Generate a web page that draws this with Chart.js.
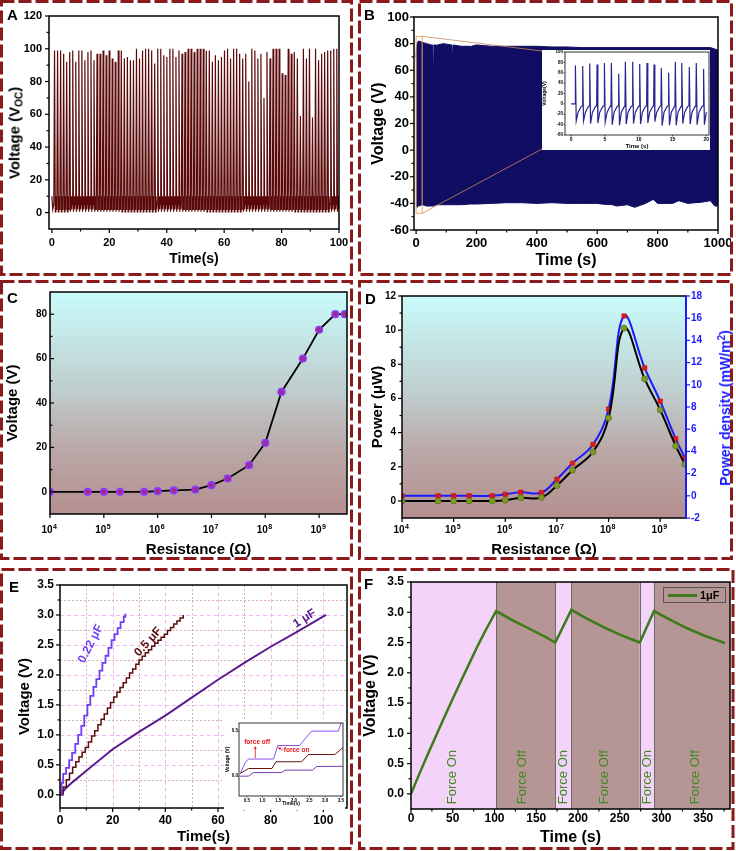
<!DOCTYPE html>
<html>
<head>
<meta charset="utf-8">
<title>TENG output figure</title>
<script src="https://cdn.jsdelivr.net/npm/chart.js@4.4.1/dist/chart.umd.min.js"></script>
<style>
  body { margin: 0; background: #fff; }
  #fig { position: relative; width: 736px; height: 851px; overflow: hidden; font-family: "Liberation Sans", Arial, sans-serif; }
  #fig canvas { position: absolute; }
  .tag { position: absolute; font-weight: bold; font-size: 15px; line-height: 15px; }
  .rot { position: absolute; transform: translate(-50%, -50%) rotate(-90deg); white-space: nowrap; font-weight: bold; }
  .rot sub { font-size: 10px; vertical-align: -3px; }
  .rot sup { font-size: 10px; vertical-align: 5px; line-height: 0; }
  #borders { z-index: 5; pointer-events: none; }
  #legF { position: absolute; left: 663px; top: 587px; width: 63px; height: 16px; box-sizing: border-box; border: 1px solid #555; font: bold 11px "Liberation Sans", Arial, sans-serif; }
  #legF span.ln { position: absolute; left: 4px; top: 6px; width: 29px; height: 2.5px; background: #3d7a1a; }
  #legF span.tx { position: absolute; left: 36px; top: 1px; }
</style>
</head>
<body>
<div id="fig">
  <canvas id="cA" width="347" height="270" style="left:3px;top:3px"></canvas>
  <canvas id="cB" width="370" height="270" style="left:361px;top:3px"></canvas>
  <canvas id="cBi" width="168" height="100" style="left:542px;top:50px;background:#fff"></canvas>
  <canvas id="cC" width="347" height="276" style="left:3px;top:283px"></canvas>
  <canvas id="cD" width="370" height="276" style="left:361px;top:283px"></canvas>
  <canvas id="cE" width="347" height="277" style="left:3px;top:571px"></canvas>
  <canvas id="cEi" width="121" height="91" style="left:224px;top:719px;background:#fff"></canvas>
  <canvas id="cF" width="371" height="277" style="left:361px;top:571px"></canvas>

  <div class="tag" style="left:7px;top:7px">A</div>
  <div class="tag" style="left:364px;top:7px">B</div>
  <div class="tag" style="left:7px;top:290px">C</div>
  <div class="tag" style="left:365px;top:291px">D</div>
  <div class="tag" style="left:9px;top:579px">E</div>
  <div class="tag" style="left:364px;top:576px">F</div>

  <div class="rot" style="left:15px;top:133px;font-size:15px">Voltage (V<sub>OC</sub>)</div>
  <div class="rot" style="left:725px;top:408px;font-size:14px;color:#1a1aff">Power density (mW/m<sup>2</sup>)</div>
  <div id="legF"><span class="ln"></span><span class="tx">1μF</span></div>

  <canvas id="borders" width="736" height="851" style="left:0;top:0"></canvas>
</div>

<script>
// ---------------- data ----------------

// A: open-circuit voltage, peak height of each press (about 1.06 s apart)
const aPeakV = [
  99, 99, 99, 97, 92, 98, 99, 92, 99, 99, 93, 98, 99, 93, 97, 97, 99, 96, 99, 94,
  92, 99, 99, 94, 95, 93, 93, 100, 94, 99,
  100, 100, 99, 91, 100, 100, 96, 95, 100, 100, 95, 99, 97, 98, 100, 100, 98, 100, 100, 100,
  99, 99, 92, 96, 93, 95, 99, 100, 94, 100, 100, 97,
  94, 97, 80, 100, 99, 94, 97, 70, 98, 94, 100, 100, 100, 85, 84, 100, 97, 98,
  94, 59, 100, 94, 100, 58, 100, 93, 97, 98, 99, 99, 100, 100
];
const aFirstPeak = 0.93;
const aPeriod = 1.057;
const aXTicks = [0, 10, 20, 30, 40, 50, 60, 70, 80, 90, 100];
const aYTicks = [0, 10, 20, 30, 40, 50, 60, 70, 80, 90, 100, 110, 120];

// B: envelope of the 1000 s run (top and bottom of the dense trace)
const bT     = [0, 3, 8, 20, 35, 50, 55, 57, 59, 66, 68, 70, 90, 118, 120, 122, 150, 179, 181, 183, 200, 250, 300, 350, 400, 450, 500, 550, 600, 614, 650, 664, 700, 724, 760, 785, 800, 850, 870, 900, 950, 975, 989, 1000];
const bUpper = [70, 80, 82, 81, 80, 79, 79, 64, 79, 79, 67, 79, 80, 79, 73, 79, 78, 78, 67, 78, 79, 78, 78, 78, 78, 77.5, 77.5, 77, 77, 77, 77, 77, 77, 77, 77, 77, 77, 77, 77, 77, 77, 77, 76, 75];
const bLower = [-40, -43, -42, -41, -42, -42, -42, -42, -42, -41, -41, -41, -41, -41, -41, -41, -41, -40.5, -40.5, -40.5, -40.5, -40, -39.5, -39.5, -40, -39.5, -40, -40, -40, -40.5, -41, -42, -41, -43, -40, -37, -40, -40, -38, -40, -39, -38, -42, -42];
const bXTicks = [0, 100, 200, 300, 400, 500, 600, 700, 800, 900, 1000];
const bYTicks = [-60, -50, -40, -30, -20, -10, 0, 10, 20, 30, 40, 50, 60, 70, 80, 90, 100];

// B inset: first 20 s
const biSpikeT = [0.64, 1.72, 2.76, 3.84, 4.93, 5.96, 7.04, 8.03, 9.11, 10.15, 11.23, 12.27, 13.35, 14.43, 15.42, 16.4, 17.49, 18.52, 19.6];
const biPeak   = [74, 73, 78, 76, 79, 79, 58, 81, 81, 77, 79, 76, 69, 60, 81, 79, 71, 79, 67];
const biTrough = [-33, -33, -38, -37, -35, -40, -41, -39, -38, -39, -37, -34, -42, -41, -41, -38, -39, -40, -40];
const biXTicks = [0, 5, 10, 15, 20];
const biYTicks = [-60, -40, -20, 0, 20, 40, 60, 80, 100];

// C / D: load resistance sweep
const res      = [1e4, 5e4, 1e5, 2e5, 5.6e5, 1e6, 2e6, 5e6, 1e7, 2e7, 5e7, 1e8, 2e8, 5e8, 1e9, 2e9, 3e9];
const cVolt    = [0, 0, 0, 0, 0, 0.3, 0.6, 1, 3, 6, 12, 22, 45, 60, 73, 80, 80];
const dPower   = [0, 0, 0, 0, 0, 0.04, 0.18, 0.2, 0.9, 1.8, 2.87, 4.86, 10.12, 7.15, 5.33, 3.22, 2.15];
const dDensity = [0, 0, 0, 0, 0, 0.14, 0.32, 0.29, 1.49, 2.93, 4.62, 7.82, 16.2, 11.52, 8.52, 5.13, 3.42];
const resTicks = [1e4, 1e5, 1e6, 1e7, 1e8, 1e9];
const cYTicks  = [0, 10, 20, 30, 40, 50, 60, 70, 80];
const dYTicks  = [0, 1, 2, 3, 4, 5, 6, 7, 8, 9, 10, 11, 12];
const dY1Ticks = [-2, 0, 2, 4, 6, 8, 10, 12, 14, 16, 18];

// E: capacitor charging
const e22T = [0, 0.6, 1.2, 2.3, 3.5, 4.6, 5.8, 6.9, 8.1, 9.2, 10.4, 11.5, 12.7, 13.8, 15.0, 16.1, 17.3, 18.4, 19.6, 20.7, 21.9, 23.0, 24.2, 24.8];
const e22V = [0, 0.2, 0.35, 0.45, 0.58, 0.7, 0.85, 1.0, 1.15, 1.32, 1.5, 1.65, 1.8, 1.93, 2.07, 2.2, 2.32, 2.45, 2.58, 2.68, 2.78, 2.88, 2.97, 3.02];
const e05T = [0, 1.2, 2.4, 3.6, 4.8, 6, 7.2, 8.4, 9.6, 10.8, 12, 13.2, 14.4, 15.6, 16.8, 18, 19.2, 20.4, 21.6, 22.8, 24, 25.2, 26.4, 27.6, 28.8, 30, 31.2, 32.4, 33.6, 34.8, 36, 37.2, 38.4, 39.6, 40.8, 42, 43.2, 44.4, 45.6, 46.8];
const e05V = [0, 0.13, 0.25, 0.36, 0.46, 0.55, 0.63, 0.71, 0.79, 0.88, 0.98, 1.07, 1.17, 1.26, 1.35, 1.45, 1.54, 1.63, 1.71, 1.79, 1.87, 1.95, 2.03, 2.1, 2.18, 2.25, 2.31, 2.37, 2.42, 2.48, 2.53, 2.58, 2.63, 2.68, 2.74, 2.79, 2.85, 2.9, 2.95, 3.0];
const e1T  = [0, 2, 5, 10, 20, 30, 40, 50, 60, 70, 80, 90, 101];
const e1V  = [0, 0.1, 0.22, 0.4, 0.76, 1.05, 1.32, 1.62, 1.92, 2.2, 2.47, 2.72, 3.0];
const eXTicks = [0, 10, 20, 30, 40, 50, 60, 70, 80, 90, 100];
const eYTicks = [0, 0.25, 0.5, 0.75, 1, 1.25, 1.5, 1.75, 2, 2.25, 2.5, 2.75, 3, 3.25, 3.5];

// E inset: first few presses
const eiVioT = [0.29, 0.45, 0.55, 1.35, 1.49, 2.18, 2.57, 3.42, 3.52];
const eiVioV = [0.03, 0.15, 0.19, 0.19, 0.34, 0.34, 0.5, 0.5, 0.6];
const eiBrnT = [0.29, 0.55, 1.3, 1.43, 2.25, 2.46, 3.31, 3.58];
const eiBrnV = [0.03, 0.085, 0.085, 0.16, 0.16, 0.24, 0.24, 0.32];
const eiPurT = [0.29, 0.55, 0.71, 1.61, 1.72, 2.6, 2.73, 3.58];
const eiPurV = [0, 0, 0.04, 0.04, 0.067, 0.067, 0.107, 0.11];
const eiXTicks = [0.5, 1, 1.5, 2, 2.5, 3, 3.5];
const eiYTicks = [0, 0.5];

// F: 1 uF with force on / off
const fT = [0, 10, 20, 30, 40, 50, 60, 70, 80, 90, 102, 120, 140, 160, 172.8, 192, 210, 230, 250, 274, 291, 310, 330, 350, 376];
const fV = [0, 0.33, 0.65, 0.96, 1.27, 1.57, 1.87, 2.16, 2.45, 2.72, 3.02, 2.88, 2.74, 2.6, 2.5, 3.04, 2.9, 2.76, 2.63, 2.5, 3.02, 2.88, 2.74, 2.62, 2.49];
const fEdges = [0, 102, 172.8, 192, 274, 291, 382];
const fLabels = ['Force On', 'Force Off', 'Force On', 'Force Off', 'Force On', 'Force Off'];
const fLabelT = [50, 133, 182, 232, 283, 340];
const fXTicks = [0, 25, 50, 75, 100, 125, 150, 175, 200, 225, 250, 275, 300, 325, 350, 375];
const fYTicks = [0, 0.25, 0.5, 0.75, 1, 1.25, 1.5, 1.75, 2, 2.25, 2.5, 2.75, 3, 3.25, 3.5];

// ---------------- helpers ----------------

const FAMILY = "'Liberation Sans', Arial, sans-serif";
Chart.defaults.font.family = FAMILY;
Chart.defaults.font.weight = 'bold';
Chart.defaults.color = '#000';
Chart.defaults.animation = false;
Chart.defaults.responsive = false;
Chart.defaults.plugins.legend.display = false;
Chart.defaults.plugins.tooltip.enabled = false;
Chart.defaults.elements.point.radius = 0;

const every = step => v => Math.abs(v / step - Math.round(v / step)) < 1e-6;
const fmt = (step, dp) => v => (every(step)(v) ? Number(v).toFixed(dp) : '');
const xy = (xs, ys) => xs.map((x, i) => ({ x: x, y: ys[i] }));

function axis(o) {
  return {
    type: o.type || 'linear',
    position: o.pos,
    min: o.min,
    max: o.max,
    grid: { display: false, drawTicks: false },
    border: { display: false },
    afterBuildTicks: s => { s.ticks = o.ticks.map(v => ({ value: v })); },
    afterFit: s => {
      if (s.isHorizontal()) s.height = o.size; else s.width = o.size;
      s.paddingLeft = s.paddingRight = s.paddingTop = s.paddingBottom = 0;
    },
    ticks: {
      display: o.label !== null,
      autoSkip: false, maxRotation: 0, minRotation: 0,
      padding: o.pad, color: o.color || '#000',
      font: { size: o.fs }, callback: o.label || undefined
    },
    title: {
      display: !!o.title, text: o.title, color: o.color || '#000',
      font: { size: o.tfs || 15 }, padding: o.tpad || 0
    }
  };
}

// plot box plus tick marks (major / minor, in or out)
const frame = {
  id: 'frame',
  afterDraw(chart, args, o) {
    const { ctx, chartArea: a } = chart;
    const major = o.major || 4, minor = o.minor || 2.5;
    ctx.save();
    ctx.lineWidth = o.width || 1.5;
    ctx.strokeStyle = '#000';
    ctx.strokeRect(a.left, a.top, a.right - a.left, a.bottom - a.top);
    Object.values(chart.scales).forEach(s => {
      const dir = (o.inward || []).includes(s.id) ? -1 : 1;
      ctx.strokeStyle = (o.colors && o.colors[s.id]) || '#000';
      ctx.lineWidth = o.tickWidth || 1.2;
      s.ticks.forEach(t => {
        const len = (t.label === '' ? minor : major) * dir;
        const p = s.getPixelForValue(t.value);
        ctx.beginPath();
        if (s.isHorizontal()) { ctx.moveTo(p, a.bottom); ctx.lineTo(p, a.bottom + len); }
        else if (s.position === 'right') { ctx.moveTo(a.right, p); ctx.lineTo(a.right + len, p); }
        else { ctx.moveTo(a.left, p); ctx.lineTo(a.left - len, p); }
        ctx.stroke();
      });
    });
    if (o.rightColor) {
      ctx.strokeStyle = o.rightColor;
      ctx.lineWidth = 2;
      ctx.beginPath(); ctx.moveTo(a.right, a.top); ctx.lineTo(a.right, a.bottom); ctx.stroke();
    }
    ctx.restore();
  }
};

// "10" with a raised exponent under each decade tick
const powLabels = {
  id: 'powLabels',
  afterDraw(chart, args, o) {
    const { ctx, chartArea: a, scales: { x } } = chart;
    ctx.save();
    ctx.fillStyle = '#000';
    ctx.textBaseline = 'alphabetic';
    x.ticks.forEach(t => {
      const px = x.getPixelForValue(t.value);
      const e = String(Math.round(Math.log10(t.value)));
      ctx.font = 'bold 10px ' + FAMILY;
      ctx.textAlign = 'right';
      ctx.fillText('10', px + 2.5, a.bottom + o.dy);
      ctx.font = 'bold 7px ' + FAMILY;
      ctx.textAlign = 'left';
      ctx.fillText(e, px + 3, a.bottom + o.dy - 4.5);
    });
    ctx.restore();
  }
};

// plot area background (solid or vertical gradient)
const shade = {
  id: 'shade',
  beforeDraw(chart, args, o) {
    if (!o.stops) return;
    const { ctx, chartArea: a } = chart;
    const g = ctx.createLinearGradient(0, a.top, 0, a.bottom);
    o.stops.forEach(s => g.addColorStop(s[0], s[1]));
    ctx.save();
    ctx.fillStyle = g;
    ctx.fillRect(a.left, a.top, a.right - a.left, a.bottom - a.top);
    ctx.restore();
  }
};

// text and arrows placed in data coordinates
const notes = {
  id: 'notes',
  afterDatasetsDraw(chart, args, o) {
    const { ctx, scales } = chart;
    const x = scales.x, y = scales.y;
    (o.items || []).forEach(n => {
      ctx.save();
      ctx.translate(x.getPixelForValue(n.x), y.getPixelForValue(n.y));
      ctx.rotate((n.rot || 0) * Math.PI / 180);
      ctx.font = n.font;
      ctx.fillStyle = n.color;
      ctx.textAlign = n.align || 'center';
      ctx.textBaseline = 'middle';
      ctx.fillText(n.text, 0, 0);
      ctx.restore();
    });
    (o.arrows || []).forEach(r => {
      const x1 = x.getPixelForValue(r.x1), y1 = y.getPixelForValue(r.y1);
      const x2 = x.getPixelForValue(r.x2), y2 = y.getPixelForValue(r.y2);
      const ang = Math.atan2(y2 - y1, x2 - x1);
      ctx.save();
      ctx.strokeStyle = ctx.fillStyle = r.color;
      ctx.lineWidth = 0.8;
      ctx.beginPath(); ctx.moveTo(x1, y1); ctx.lineTo(x2, y2); ctx.stroke();
      ctx.beginPath();
      ctx.moveTo(x2, y2);
      ctx.lineTo(x2 - 3 * Math.cos(ang - 0.5), y2 - 3 * Math.sin(ang - 0.5));
      ctx.lineTo(x2 - 3 * Math.cos(ang + 0.5), y2 - 3 * Math.sin(ang + 0.5));
      ctx.closePath(); ctx.fill();
      ctx.restore();
    });
  }
};

// E: dashed grid at every tick
const eGrid = {
  id: 'eGrid',
  beforeDatasetsDraw(chart) {
    const { ctx, chartArea: a, scales: { x, y } } = chart;
    ctx.save();
    ctx.lineWidth = 0.8;
    x.ticks.forEach(t => {
      if (t.value <= x.min || t.value >= x.max) return;
      const px = Math.round(x.getPixelForValue(t.value)) + 0.5;
      ctx.strokeStyle = t.label ? '#eda6ee' : '#c9a3a3';
      ctx.setLineDash(t.label ? [4, 3] : [2, 2]);
      ctx.beginPath(); ctx.moveTo(px, a.top); ctx.lineTo(px, a.bottom); ctx.stroke();
    });
    y.ticks.forEach(t => {
      if (t.value <= 0 || t.value >= y.max) return;
      const py = Math.round(y.getPixelForValue(t.value)) + 0.5;
      ctx.strokeStyle = t.label ? '#eda6ee' : '#c9a3a3';
      ctx.setLineDash(t.label ? [4, 3] : [2, 2]);
      ctx.beginPath(); ctx.moveTo(a.left, py); ctx.lineTo(a.right, py); ctx.stroke();
    });
    ctx.restore();
  }
};

// F: force on / off bands
const bands = {
  id: 'bands',
  beforeDatasetsDraw(chart, args, o) {
    const { ctx, chartArea: a, scales: { x } } = chart;
    ctx.save();
    for (let i = 0; i < fEdges.length - 1; i++) {
      const x0 = x.getPixelForValue(fEdges[i]);
      const x1 = Math.min(x.getPixelForValue(fEdges[i + 1]), a.right);
      ctx.fillStyle = i % 2 ? o.off : o.on;
      ctx.fillRect(x0, a.top, x1 - x0, a.bottom - a.top);
    }
    ctx.strokeStyle = '#6b6b6b';
    ctx.lineWidth = 1;
    fEdges.slice(1, -1).forEach(e => {
      const px = Math.round(x.getPixelForValue(e)) + 0.5;
      ctx.beginPath(); ctx.moveTo(px, a.top); ctx.lineTo(px, a.bottom); ctx.stroke();
    });
    ctx.restore();
  }
};

// B: orange zoom box and the lines towards the inset
const zoomBox = {
  id: 'zoomBox',
  afterDatasetsDraw(chart, args, o) {
    const { ctx, scales: { x, y } } = chart;
    const x0 = x.getPixelForValue(o.x0), x1 = x.getPixelForValue(o.x1);
    const y0 = y.getPixelForValue(o.y0), y1 = y.getPixelForValue(o.y1);
    const inset = document.getElementById('cBi');
    const ix = inset.offsetLeft - chart.canvas.offsetLeft;
    const iy = inset.offsetTop - chart.canvas.offsetTop;
    ctx.save();
    ctx.strokeStyle = '#f2a65a';
    ctx.lineWidth = 1;
    ctx.strokeRect(x0, y0, x1 - x0, y1 - y0);
    ctx.strokeStyle = '#c98a5a';
    ctx.lineWidth = 0.8;
    ctx.beginPath();
    ctx.moveTo(x1, y0); ctx.lineTo(ix, iy + 1);
    ctx.moveTo(x1, y1); ctx.lineTo(ix, iy + inset.height - 1);
    ctx.stroke();
    ctx.restore();
  }
};

// ---------------- A ----------------
const aPts = [{ x: 0, y: 10 }, { x: 0.3, y: 2 }];
aPeakV.forEach((v, i) => {
  const t = aFirstPeak + i * aPeriod;
  aPts.push({ x: t - 0.25, y: 5 }, { x: t, y: v }, { x: t + 0.25, y: 0.5 }, { x: t + 0.45, y: 10 }, { x: t + 0.7, y: 2 });
});

new Chart(document.getElementById('cA'), {
  type: 'line',
  data: { datasets: [{ data: aPts, borderColor: '#5a0808', borderWidth: 1.2 }] },
  options: {
    layout: { padding: { top: 13, right: 11 }, autoPadding: false },
    scales: {
      x: axis({ pos: 'bottom', min: -1, max: 100, ticks: aXTicks, size: 44, pad: 7, fs: 11, label: fmt(20, 0), title: 'Time(s)', tfs: 14, tpad: { bottom: 5 } }),
      y: axis({ pos: 'left', min: -10, max: 120, ticks: aYTicks, size: 46, pad: 7, fs: 11, label: fmt(20, 0) })
    },
    plugins: { frame: {} }
  },
  plugins: [frame]
});

// ---------------- B ----------------
const navy = '#110d62';
new Chart(document.getElementById('cB'), {
  type: 'line',
  data: {
    datasets: [
      { data: xy(bT, bUpper), borderColor: navy, backgroundColor: navy, borderWidth: 1, fill: '+1' },
      { data: xy(bT, bLower), borderColor: navy, borderWidth: 1, fill: false }
    ]
  },
  options: {
    layout: { padding: { top: 14, right: 13 }, autoPadding: false },
    scales: {
      x: axis({ pos: 'bottom', min: -7, max: 1000, ticks: bXTicks, size: 43, pad: 6, fs: 13, label: fmt(200, 0), title: 'Time (s)', tfs: 16, tpad: { bottom: 3 } }),
      y: axis({ pos: 'left', min: -60, max: 100, ticks: bYTicks, size: 53, pad: 5, fs: 13, label: fmt(20, 0), title: 'Voltage (V)', tfs: 16, tpad: { top: 8 } })
    },
    plugins: { frame: {}, zoomBox: { x0: 0, x1: 20, y0: 85.5, y1: -47.5 } }
  },
  plugins: [zoomBox, frame]
});

// B inset
const biPts = [{ x: 0, y: 0 }, { x: 0.5, y: 0 }];
biSpikeT.forEach((t, i) => {
  biPts.push({ x: t - 0.06, y: i === 0 ? 0 : -4 }, { x: t, y: biPeak[i] }, { x: t + 0.12, y: biTrough[i] }, { x: t + 0.4, y: -16 });
  if (i < biSpikeT.length - 1) biPts.push({ x: t + 0.85, y: -5 });
});

new Chart(document.getElementById('cBi'), {
  type: 'line',
  data: { datasets: [{ data: biPts, borderColor: '#262690', borderWidth: 1.2 }] },
  options: {
    layout: { padding: { top: 2, right: 1 }, autoPadding: false },
    scales: {
      x: axis({ pos: 'bottom', min: -0.9, max: 20.4, ticks: biXTicks, size: 15, pad: 2, fs: 5, label: v => String(v), title: 'Time (s)', tfs: 6, tpad: { bottom: 0 } }),
      y: axis({ pos: 'left', min: -60, max: 100, ticks: biYTicks, size: 23, pad: 2, fs: 4.5, label: v => String(v), title: 'Voltage(V)', tfs: 5, tpad: { top: 0 } })
    },
    plugins: { frame: { width: 0.8, tickWidth: 0.6, major: 1.5 } }
  },
  plugins: [frame]
});

// ---------------- C ----------------
const cyanBrown = [[0, '#c9fbfb'], [0.45, '#bfcccc'], [0.7, '#bba8a8'], [1, '#b48f8f']];
new Chart(document.getElementById('cC'), {
  type: 'line',
  data: {
    datasets: [{
      data: xy(res, cVolt), borderColor: '#000', borderWidth: 1.8,
      pointRadius: 3.3, pointBackgroundColor: '#a02a8e', pointBorderColor: '#8a3cff', pointBorderWidth: 1.6
    }]
  },
  options: {
    layout: { padding: { top: 9, right: 3 }, autoPadding: false },
    scales: {
      x: axis({ type: 'logarithmic', pos: 'bottom', min: 1e4, max: 3.3e9, ticks: resTicks, size: 45, pad: 6, fs: 10, label: null, title: 'Resistance (Ω)', tfs: 15, tpad: { bottom: 0 } }),
      y: axis({ pos: 'left', min: -10, max: 90, ticks: cYTicks, size: 47, pad: 3, fs: 10, label: fmt(20, 0), title: 'Voltage (V)', tfs: 15, tpad: { top: 1 } })
    },
    plugins: { frame: { inward: ['y'] }, shade: { stops: cyanBrown }, powLabels: { dy: 19 } }
  },
  plugins: [shade, frame, powLabels]
});

// ---------------- D ----------------
new Chart(document.getElementById('cD'), {
  type: 'line',
  data: {
    datasets: [
      {
        data: xy(res, dPower), yAxisID: 'y', borderColor: '#000', borderWidth: 2, tension: 0.4,
        pointRadius: 3, pointBackgroundColor: '#7f9c22', pointBorderColor: '#56701a', pointBorderWidth: 0.8
      },
      {
        data: xy(res, dDensity), yAxisID: 'y1', borderColor: '#1a1aff', borderWidth: 2, tension: 0.4,
        pointStyle: 'rect', pointRadius: 3.2, pointBackgroundColor: '#e01818', pointBorderColor: '#c01010', pointBorderWidth: 0.5
      }
    ]
  },
  options: {
    layout: { padding: { top: 13, right: 0 }, autoPadding: false },
    scales: {
      x: axis({ type: 'logarithmic', pos: 'bottom', min: 1e4, max: 3.16e9, ticks: resTicks, size: 41, pad: 6, fs: 10, label: null, title: 'Resistance (Ω)', tfs: 15, tpad: { bottom: 0 } }),
      y: axis({ pos: 'left', min: -1, max: 12, ticks: dYTicks, size: 41, pad: 6, fs: 10, label: fmt(2, 0), title: 'Power (μW)', tfs: 15, tpad: { top: 8 } }),
      y1: axis({ pos: 'right', min: -2, max: 18, ticks: dY1Ticks, size: 45, pad: 5, fs: 10, label: v => String(v), color: '#1a1aff' })
    },
    plugins: { frame: { colors: { y1: '#1a1aff' }, rightColor: '#1a1aff' }, shade: { stops: cyanBrown }, powLabels: { dy: 15 } }
  },
  plugins: [shade, frame, powLabels]
});

// ---------------- E ----------------
const blueViolet = '#6f3ff6', maroon = '#5c0d0d', plum = '#5b1b8e';
new Chart(document.getElementById('cE'), {
  type: 'line',
  data: {
    datasets: [
      { data: xy(e22T, e22V), borderColor: blueViolet, borderWidth: 1.8, stepped: true },
      { data: xy(e05T, e05V), borderColor: maroon, borderWidth: 1.5, stepped: true },
      { data: xy(e1T, e1V), borderColor: plum, borderWidth: 2 }
    ]
  },
  options: {
    layout: { padding: { top: 14, right: 3 }, autoPadding: false },
    scales: {
      x: axis({ pos: 'bottom', min: 0, max: 109, ticks: eXTicks, size: 40, pad: 5, fs: 12, label: fmt(20, 0), title: 'Time(s)', tfs: 15, tpad: { bottom: 2 } }),
      y: axis({ pos: 'left', min: -0.22, max: 3.5, ticks: eYTicks, size: 57, pad: 6, fs: 12, label: fmt(0.5, 1), title: 'Voltage (V)', tfs: 15, tpad: { top: 13 } })
    },
    plugins: {
      frame: {},
      notes: {
        items: [
          { text: '0.22 μF', x: 11.7, y: 2.52, rot: -63, font: 'bold 12px ' + FAMILY, color: blueViolet },
          { text: '0.5 μF', x: 33.5, y: 2.55, rot: -48, font: 'bold 12px ' + FAMILY, color: maroon },
          { text: '1 μF', x: 92.9, y: 2.94, rot: -32, font: 'bold 12px ' + FAMILY, color: plum }
        ]
      }
    }
  },
  plugins: [eGrid, notes, frame]
});

// E inset
new Chart(document.getElementById('cEi'), {
  type: 'line',
  data: {
    datasets: [
      { data: xy(eiVioT, eiVioV), borderColor: '#8a50f2', borderWidth: 1 },
      { data: xy(eiBrnT, eiBrnV), borderColor: '#6a1212', borderWidth: 1 },
      { data: xy(eiPurT, eiPurV), borderColor: '#7a3ab0', borderWidth: 1 }
    ]
  },
  options: {
    layout: { padding: { top: 4, right: 2 }, autoPadding: false },
    scales: {
      x: axis({ pos: 'bottom', min: 0.25, max: 3.57, ticks: eiXTicks, size: 14, pad: 2, fs: 4.5, label: v => Number(v).toFixed(1), title: 'Time(s)', tfs: 5, tpad: { bottom: 3 } }),
      y: axis({ pos: 'left', min: -0.22, max: 0.59, ticks: eiYTicks, size: 15, pad: 1, fs: 4.5, label: v => Number(v).toFixed(1), title: 'Voltage (V)', tfs: 5, tpad: { top: 1 } })
    },
    plugins: {
      frame: { width: 0.8, tickWidth: 0.6, major: 1.5 },
      notes: {
        items: [
          { text: 'force off', x: 0.83, y: 0.38, font: 'bold 6.5px ' + FAMILY, color: '#e8141c' },
          { text: 'force on', x: 1.68, y: 0.285, align: 'left', font: 'bold 6.5px ' + FAMILY, color: '#e8141c' }
        ],
        arrows: [
          { x1: 0.77, y1: 0.2, x2: 0.77, y2: 0.33, color: '#e8141c' },
          { x1: 1.66, y1: 0.289, x2: 1.5, y2: 0.317, color: '#e8141c' }
        ]
      }
    }
  },
  plugins: [notes, frame]
});

// ---------------- F ----------------
const leaf = '#3d7a1a';
new Chart(document.getElementById('cF'), {
  type: 'line',
  data: { datasets: [{ data: xy(fT, fV), borderColor: leaf, borderWidth: 2.5 }] },
  options: {
    layout: { padding: { top: 11, right: 2 }, autoPadding: false },
    scales: {
      x: axis({ pos: 'bottom', min: 0, max: 382, ticks: fXTicks, size: 39, pad: 2, fs: 12, label: fmt(50, 0), title: 'Time (s)', tfs: 16, tpad: { bottom: 1 } }),
      y: axis({ pos: 'left', min: -0.25, max: 3.5, ticks: fYTicks, size: 50, pad: 7, fs: 12, label: fmt(0.5, 1), title: 'Voltage (V)', tfs: 16, tpad: { top: 0 } })
    },
    plugins: {
      frame: {},
      bands: { on: '#f3d4f8', off: '#b69595' },
      notes: {
        items: fLabels.map((s, i) => ({ text: s, x: fLabelT[i], y: -0.17, rot: -90, align: 'left', font: '13px ' + FAMILY, color: '#3f8a1e' }))
      }
    }
  },
  plugins: [bands, notes, frame]
});

// ---------------- panel borders ----------------
const bc = document.getElementById('borders').getContext('2d');
bc.strokeStyle = '#8b1a1a';
bc.lineWidth = 3;
bc.setLineDash([13, 4]);
[[1.5, 1.5, 350, 273], [359.5, 1.5, 372, 273], [1.5, 281.5, 350, 277],
 [359.5, 281.5, 372, 277], [1.5, 569.5, 350, 279], [359.5, 569.5, 373.5, 279]].forEach(r => bc.strokeRect(r[0], r[1], r[2], r[3]));
</script>
</body>
</html>
